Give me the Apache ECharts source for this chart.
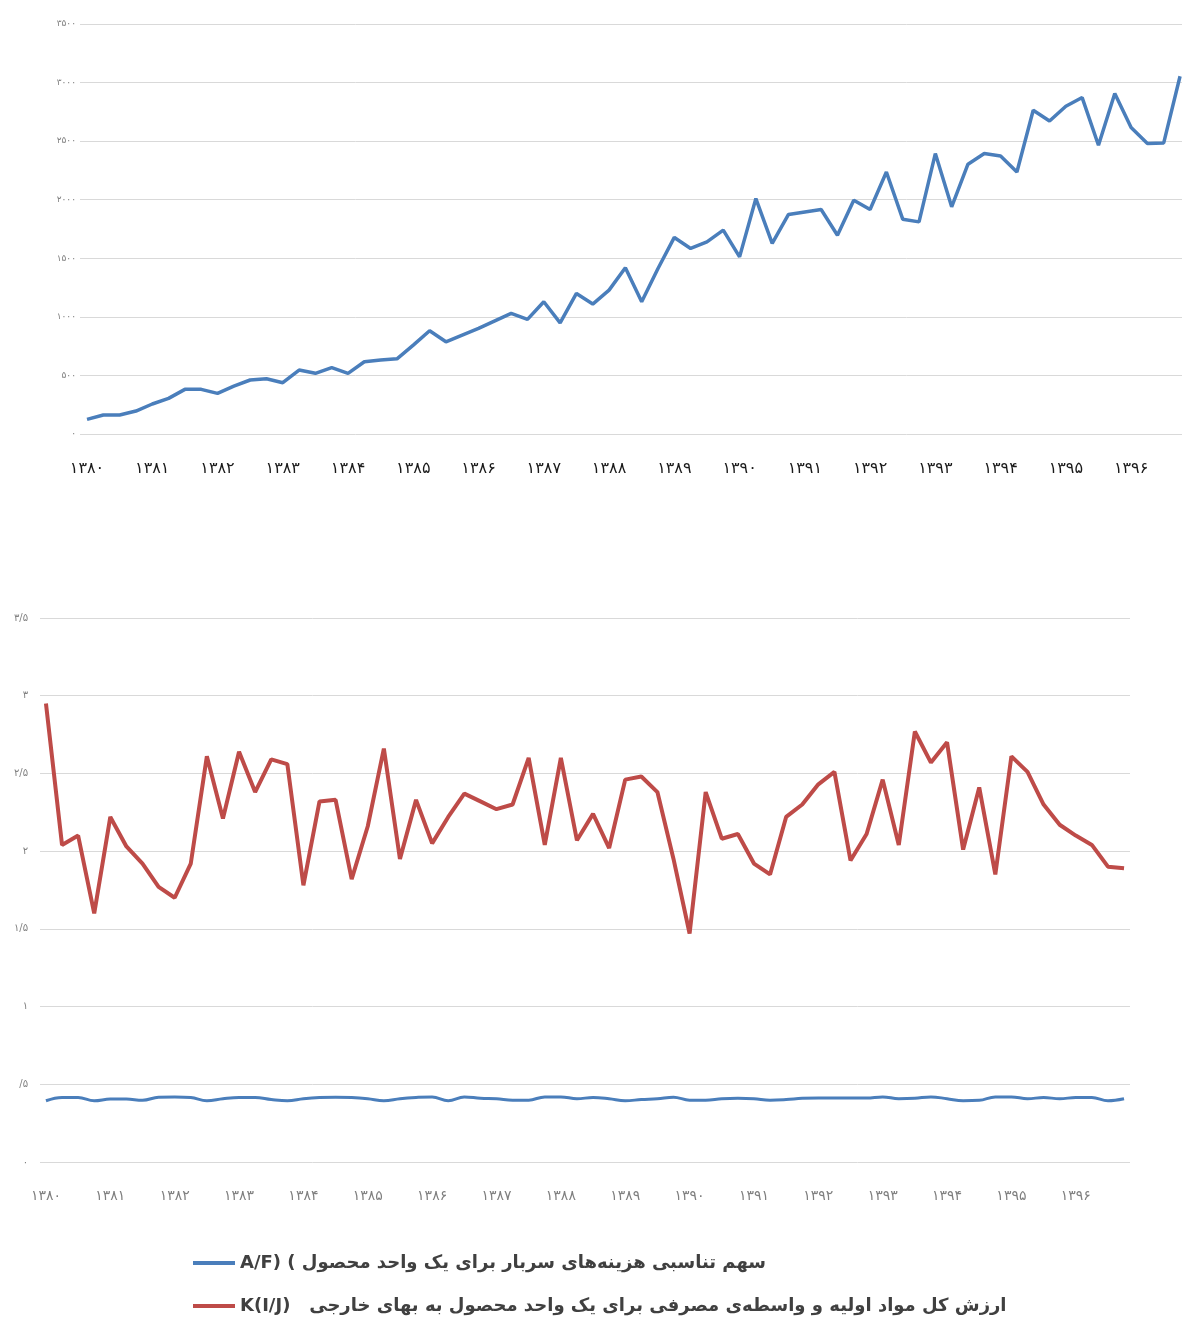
<!DOCTYPE html>
<html>
<head>
<meta charset="utf-8">
<script src="https://cdn.jsdelivr.net/npm/echarts@6/dist/echarts.min.js"></script>
<style>
  html, body { margin: 0; padding: 0; background: #fff; }
  #chart { width: 1182px; height: 1320px; }
</style>
</head>
<body>
<div id="chart"></div>
<script>
// سال‌ها (هر سال چهار فصل)
const years = ['۱۳۸۰', '۱۳۸۱', '۱۳۸۲', '۱۳۸۳', '۱۳۸۴', '۱۳۸۵', '۱۳۸۶', '۱۳۸۷', '۱۳۸۸',
  '۱۳۸۹', '۱۳۹۰', '۱۳۹۱', '۱۳۹۲', '۱۳۹۳', '۱۳۹۴', '۱۳۹۵', '۱۳۹۶'];

const topYLabels = ['۰', '۵۰۰', '۱۰۰۰', '۱۵۰۰', '۲۰۰۰', '۲۵۰۰', '۳۰۰۰', '۳۵۰۰'];
const bottomYLabels = ['۰', '/۵', '۱', '۱/۵', '۲', '۲/۵', '۳', '۳/۵'];

// نمودار بالا
const topValues = [
  125, 162, 162, 196, 256, 304, 381, 381, 347, 409,
  461, 472, 438, 546, 518, 566, 518, 617, 631, 642,
  759, 881, 787, 844, 901, 966, 1029, 978, 1129, 949,
  1200, 1109, 1228, 1419, 1129, 1413, 1678, 1584, 1640, 1740,
  1512, 2010, 1627, 1874, 1896, 1916, 1697, 1996, 1916, 2237,
  1834, 1811, 2394, 1939, 2303, 2394, 2374, 2237, 2764, 2672,
  2798, 2872, 2465, 2906, 2616, 2480, 2485, 3054
];

// نمودار پایین
const redValues = [
  2.95, 2.04, 2.10, 1.60, 2.22, 2.03, 1.92, 1.77, 1.70, 1.92,
  2.61, 2.21, 2.64, 2.38, 2.59, 2.56, 1.78, 2.32, 2.33, 1.82,
  2.16, 2.66, 1.95, 2.33, 2.05, 2.22, 2.37, 2.32, 2.27, 2.30,
  2.60, 2.04, 2.60, 2.07, 2.24, 2.02, 2.46, 2.48, 2.38, 1.95,
  1.47, 2.38, 2.08, 2.11, 1.92, 1.85, 2.22, 2.30, 2.43, 2.51,
  1.94, 2.11, 2.46, 2.04, 2.77, 2.57, 2.70, 2.01, 2.41, 1.85,
  2.61, 2.51, 2.30, 2.17, 2.10, 2.04, 1.90, 1.89
];
const blueValues = [
  0.394, 0.415, 0.415, 0.394, 0.405, 0.405, 0.397, 0.417, 0.419, 0.415,
  0.394, 0.407, 0.415, 0.415, 0.402, 0.394, 0.407, 0.415, 0.417, 0.415,
  0.407, 0.394, 0.407, 0.415, 0.419, 0.394, 0.419, 0.410, 0.407, 0.398,
  0.398, 0.419, 0.419, 0.407, 0.415, 0.407, 0.394, 0.402, 0.407, 0.417,
  0.398, 0.398, 0.407, 0.410, 0.407, 0.398, 0.402, 0.410, 0.412, 0.412,
  0.412, 0.412, 0.419, 0.407, 0.410, 0.419, 0.407, 0.394, 0.397, 0.419,
  0.419, 0.407, 0.415, 0.407, 0.415, 0.415, 0.394, 0.407
];

const blueName = 'A/F) ( سهم تناسبی هزینه‌های سربار برای یک واحد محصول';
const redName = 'K(I/J)   ارزش کل مواد اولیه و واسطه‌ی مصرفی برای یک واحد محصول به بهای خارجی';

const yearTicks = years.map((y, i) => i * 4);
const toPairs = arr => arr.map((v, i) => [i, v]);

const fontFa = 'DejaVu Sans';
const gridColor = '#d9d9d9';

let myChart = echarts.init(document.getElementById('chart'));
let option = {
  animation: false,
  backgroundColor: '#fff',
  grid: [
    { left: 80, right: 0, top: 24, height: 410 },
    { left: 40, right: 52, top: 618, height: 544 }
  ],
  xAxis: [
    {
      gridIndex: 0, type: 'value', min: -0.43, max: 67.12,
      axisLine: { show: false }, axisTick: { show: false }, splitLine: { show: false },
      axisLabel: {
        customValues: yearTicks,
        formatter: v => years[Math.round(v / 4)],
        margin: 27, fontSize: 16, color: '#1a1a1a', fontFamily: fontFa
      }
    },
    {
      gridIndex: 1, type: 'value', min: -0.37, max: 67.37,
      axisLine: { show: false }, axisTick: { show: false }, splitLine: { show: false },
      axisLabel: {
        customValues: yearTicks,
        formatter: v => years[Math.round(v / 4)],
        margin: 27, fontSize: 14, color: '#7f7f7f', fontFamily: fontFa
      }
    }
  ],
  yAxis: [
    {
      gridIndex: 0, type: 'value', min: 0, max: 3500, interval: 500,
      axisLine: { show: false }, axisTick: { show: false },
      splitLine: { lineStyle: { color: gridColor, width: 1 } },
      axisLabel: {
        formatter: v => topYLabels[Math.round(v / 500)],
        margin: 4, fontSize: 9, color: '#7f7f7f', fontFamily: fontFa
      }
    },
    {
      gridIndex: 1, type: 'value', min: 0, max: 3.5, interval: 0.5,
      axisLine: { show: false }, axisTick: { show: false },
      splitLine: { lineStyle: { color: gridColor, width: 1 } },
      axisLabel: {
        formatter: v => bottomYLabels[Math.round(v * 2)],
        margin: 12, fontSize: 10, color: '#7f7f7f', fontFamily: fontFa
      }
    }
  ],
  legend: {
    data: [blueName, redName],
    orient: 'vertical',
    left: 188,
    top: 1249,
    itemGap: 25,
    itemWidth: 42,
    itemHeight: 4,
    icon: 'rect',
    textStyle: { fontSize: 18, fontWeight: 'bold', color: '#404040', fontFamily: fontFa }
  },
  series: [
    {
      name: 'top',
      type: 'line',
      xAxisIndex: 0, yAxisIndex: 0,
      data: toPairs(topValues),
      showSymbol: false,
      lineStyle: { color: '#4a7ebb', width: 3.5 },
      itemStyle: { color: '#4a7ebb' }
    },
    {
      name: redName,
      type: 'line',
      xAxisIndex: 1, yAxisIndex: 1,
      data: toPairs(redValues),
      showSymbol: false,
      lineStyle: { color: '#be4b48', width: 4 },
      itemStyle: { color: '#be4b48' }
    },
    {
      name: blueName,
      type: 'line',
      xAxisIndex: 1, yAxisIndex: 1,
      data: toPairs(blueValues),
      showSymbol: false,
      smooth: 0.4,
      lineStyle: { color: '#4a7ebb', width: 3 },
      itemStyle: { color: '#4a7ebb' }
    }
  ]
};
myChart.setOption(option);
</script>
</body>
</html>
